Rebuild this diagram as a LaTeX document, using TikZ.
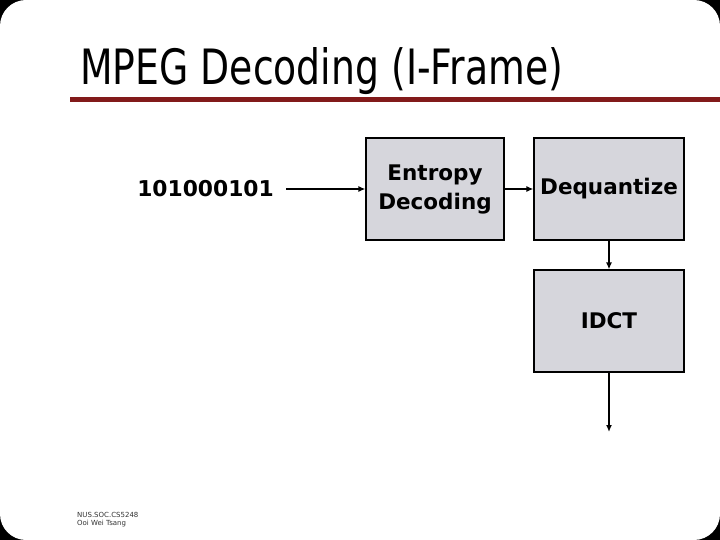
\documentclass[tikz,border=0pt]{standalone}
\usepackage{fontspec}
\setmainfont{DejaVu Sans}
\usetikzlibrary{arrows.meta}
\definecolor{barred}{RGB}{130,26,26}
\definecolor{boxgray}{RGB}{214,214,220}
\tikzset{
  procbox/.style={draw=black, line width=1.1pt, fill=boxgray, minimum width=#1, minimum height=102pt, inner sep=0pt, align=center, font=\fontsize{21.5}{29}\selectfont\bfseries},
  flow/.style={line width=1.6pt, -{Latex[length=7pt,width=6pt]}},
}
\begin{document}
\begin{tikzpicture}[x=1pt,y=-1pt]
\useasboundingbox (0,0) rectangle (720,540);
\fill[black] (0,0) rectangle (720,540);
\fill[white, rounded corners=26pt] (0,0) rectangle (720,540);
% title
\node[anchor=base west, inner sep=0pt] (title) at (80,85) {\resizebox{483pt}{37pt}{MPEG Decoding (I-Frame)}};
\fill[barred] (70,97) rectangle (720,102);
% nodes
\node[font=\fontsize{21.8}{24}\selectfont\bfseries, anchor=east, inner sep=0pt] (bits) at (274,189) {101000101};
\coordinate (bitsout) at (286,189);
\node[procbox=138pt] (ent) at (435,189) {Entropy\\Decoding};
\node[procbox=150pt] (deq) at (609,189) {Dequantize};
\node[procbox=150pt] (idct) at (609,321) {IDCT};
\coordinate (out) at (609,432);
% connectors
\draw[flow] (bitsout) -- (ent.west);
\draw[flow] (ent.east) -- (deq.west);
\draw[flow] (deq.south) -- (idct.north);
\draw[flow] (idct.south) -- (out);
% footer
\node[anchor=north west, inner sep=0pt, align=left, font=\fontsize{7}{8.5}\selectfont, text=black!80] (foot) at (77,512) {NUS.SOC.CS5248\\Ooi Wei Tsang};
\end{tikzpicture}
\end{document}
